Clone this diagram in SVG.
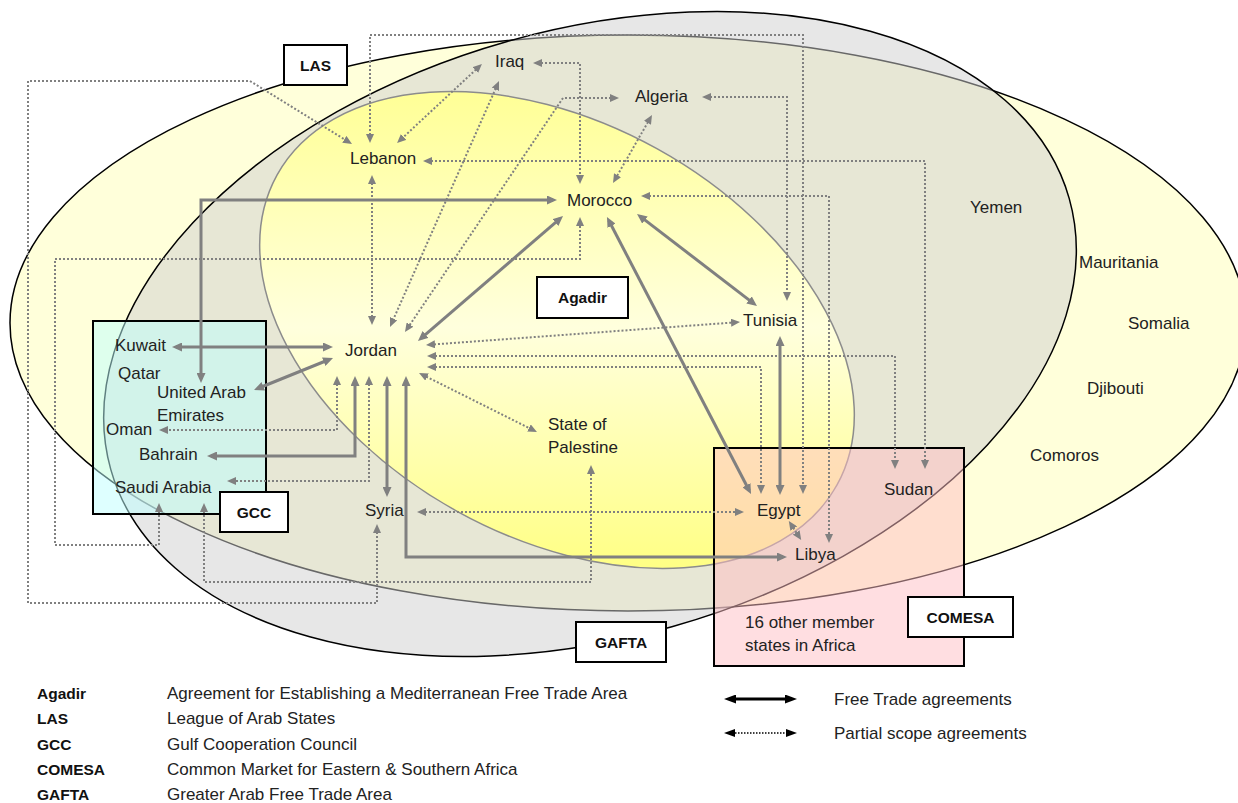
<svg xmlns="http://www.w3.org/2000/svg" width="1238" height="803" viewBox="0 0 1238 803">
<style>
.t{font-family:"Liberation Sans",Arial,sans-serif;font-size:17px;fill:#222}
.b{font-family:"Liberation Sans",Arial,sans-serif;font-size:15.5px;font-weight:bold;fill:#111}
.c{text-anchor:middle}
.lg{font-size:17px}
.lbl{fill:#fff;stroke:#000;stroke-width:2}
.ft{fill:none;stroke:#808080;stroke-width:3;marker-start:url(#aS);marker-end:url(#aS)}
.ps{fill:none;stroke:#808080;stroke-width:2;stroke-dasharray:2 2;marker-start:url(#aD);marker-end:url(#aD)}
</style>
<defs>
<marker id="aS" viewBox="0 0 10 9" refX="6" refY="4.5" markerWidth="10" markerHeight="9" markerUnits="userSpaceOnUse" orient="auto-start-reverse"><path d="M0,0L10,4.5L0,9z" fill="#808080"/></marker>
<marker id="aD" viewBox="0 0 9 8" refX="5" refY="4" markerWidth="9" markerHeight="8" markerUnits="userSpaceOnUse" orient="auto-start-reverse"><path d="M0,0L9,4L0,8z" fill="#808080"/></marker>
<marker id="aSk" viewBox="0 0 12 9" refX="7" refY="4.5" markerWidth="12" markerHeight="9" markerUnits="userSpaceOnUse" orient="auto-start-reverse"><path d="M0,0L12,4.5L0,9z" fill="#000"/></marker>
<marker id="aDk" viewBox="0 0 11 8" refX="6" refY="4" markerWidth="11" markerHeight="8" markerUnits="userSpaceOnUse" orient="auto-start-reverse"><path d="M0,0L11,4L0,8z" fill="#000"/></marker>
<linearGradient id="agadirGrad" gradientUnits="userSpaceOnUse" x1="-115.4" y1="-208.2" x2="113" y2="203.8">
<stop offset="0" stop-color="#FFFF96"/>
<stop offset="0.5" stop-color="#FFFFDD"/>
<stop offset="1" stop-color="#FFFF86"/>
</linearGradient>
</defs>
<rect width="1238" height="803" fill="#fff"/>

<g id="LAS-region">
<ellipse cx="628" cy="323" rx="618" ry="288" fill="#FFFFDA" stroke="#000" stroke-width="1.5"/>
</g>
<g id="GAFTA-region">
<ellipse cx="0" cy="0" rx="498" ry="304" transform="translate(590 334) rotate(-15.8)" fill="#CFCFCF" fill-opacity="0.5" stroke="#000" stroke-width="1.5"/>
</g>
<g id="Agadir-region">
<ellipse cx="0" cy="0" rx="320" ry="207" transform="translate(557 330) rotate(29)" fill="url(#agadirGrad)" stroke="#8C8C8C" stroke-width="1.5"/>
</g>
<g id="GCC-region">
<rect x="93" y="321" width="173" height="193" fill="rgb(190,255,255)" fill-opacity="0.5" stroke="#000" stroke-width="2"/>
</g>
<g id="COMESA-region">
<rect x="714" y="448" width="250" height="218" fill="rgb(255,190,196)" fill-opacity="0.5" stroke="#000" stroke-width="2"/>
</g>

<g id="connectors">
<path class="ft" d="M553,200L201,200L201,379"/>
<path class="ft" d="M176,347L329,347"/>
<path class="ft" d="M257.7,388.5L329.3,359.5"/>
<path class="ft" d="M211,456L355,456L355,380"/>
<path class="ft" d="M387,380L387,493"/>
<path class="ft" d="M406,380L406,557L783,557"/>
<path class="ft" d="M421,338.4L560,218.6"/>
<path class="ft" d="M608.8,220.5L749.2,490.5"/>
<path class="ft" d="M640.2,216.4L753.8,303.6"/>
<path class="ft" d="M780,340L780,491"/>

<path class="ps" d="M377,528L377,603L28,603L28,81L250,81L348.6,141.9"/>
<path class="ps" d="M370,139L370,35L803,35L803,490"/>
<path class="ps" d="M479,66.7L400,140.3"/>
<path class="ps" d="M497.4,84.7L391.6,323.3"/>
<path class="ps" d="M537,63L580,63L580,180"/>
<path class="ps" d="M615,98L563,98L407.2,328.7"/>
<path class="ps" d="M372,179L372,321"/>
<path class="ps" d="M650,118.5L615,179.5"/>
<path class="ps" d="M706,97L787,97L787,297"/>
<path class="ps" d="M427,161L925,161L925,465"/>
<path class="ps" d="M645,196L829,196L829,539"/>
<path class="ps" d="M430,344.7L736,322.3"/>
<path class="ps" d="M431,356L895,356L895,465"/>
<path class="ps" d="M431,367L761,367L761,490"/>
<path class="ps" d="M422.6,374.8L533.4,430.2"/>
<path class="ps" d="M421,512L740,512"/>
<path class="ps" d="M791,524.4L799,536.6"/>
<path class="ps" d="M337,380L337,430L163,430"/>
<path class="ps" d="M369,380L369,481L231,481"/>
<path class="ps" d="M159,507L159,545L55,545L55,259L580,259L580,221"/>
<path class="ps" d="M204,507L204,582L591,582L591,469"/>
</g>

<g id="label-LAS"><rect class="lbl" x="284" y="45" width="63" height="40"/><text class="b c" x="315.5" y="70.5">LAS</text></g>
<g id="label-Agadir"><rect class="lbl" x="537" y="277" width="91" height="41"/><text class="b c" x="582.5" y="303">Agadir</text></g>
<g id="label-GCC"><rect class="lbl" x="220" y="492" width="68" height="40"/><text class="b c" x="254" y="517.5">GCC</text></g>
<g id="label-GAFTA"><rect class="lbl" x="576" y="622" width="90" height="40"/><text class="b c" x="621" y="647.5">GAFTA</text></g>
<g id="label-COMESA"><rect class="lbl" x="908" y="597" width="105" height="40"/><text class="b c" x="960.5" y="622.5">COMESA</text></g>

<g id="node-Iraq"><text class="t" x="495" y="67">Iraq</text></g>
<g id="node-Algeria"><text class="t" x="635" y="102">Algeria</text></g>
<g id="node-Lebanon"><text class="t" x="350" y="164">Lebanon</text></g>
<g id="node-Morocco"><text class="t" x="567" y="206">Morocco</text></g>
<g id="node-Yemen"><text class="t" x="970" y="213">Yemen</text></g>
<g id="node-Mauritania"><text class="t" x="1079" y="268">Mauritania</text></g>
<g id="node-Somalia"><text class="t" x="1128" y="329">Somalia</text></g>
<g id="node-Djibouti"><text class="t" x="1087" y="394">Djibouti</text></g>
<g id="node-Comoros"><text class="t" x="1030" y="461">Comoros</text></g>
<g id="node-Tunisia"><text class="t" x="743" y="326">Tunisia</text></g>
<g id="node-Jordan"><text class="t" x="345" y="356">Jordan</text></g>
<g id="node-Kuwait"><text class="t" x="115" y="351">Kuwait</text></g>
<g id="node-Qatar"><text class="t" x="118" y="379">Qatar</text></g>
<g id="node-UAE"><text class="t" x="157" y="398">United Arab</text><text class="t" x="157" y="421">Emirates</text></g>
<g id="node-Oman"><text class="t" x="106" y="435">Oman</text></g>
<g id="node-Bahrain"><text class="t" x="139" y="460">Bahrain</text></g>
<g id="node-SaudiArabia"><text class="t" x="115" y="493">Saudi Arabia</text></g>
<g id="node-Syria"><text class="t" x="365" y="516">Syria</text></g>
<g id="node-Palestine"><text class="t" x="548" y="430">State of</text><text class="t" x="548" y="453">Palestine</text></g>
<g id="node-Egypt"><text class="t" x="757" y="516">Egypt</text></g>
<g id="node-Libya"><text class="t" x="795" y="560">Libya</text></g>
<g id="node-Sudan"><text class="t" x="884" y="495">Sudan</text></g>
<g id="node-OtherAfrica"><text class="t" x="745" y="628">16 other member</text><text class="t" x="745" y="651">states in Africa</text></g>

<g id="legend">
<text class="b" x="37" y="699">Agadir</text><text class="t lg" x="167" y="699">Agreement for Establishing a Mediterranean Free Trade Area</text>
<text class="b" x="37" y="724">LAS</text><text class="t lg" x="167" y="724">League of Arab States</text>
<text class="b" x="37" y="750">GCC</text><text class="t lg" x="167" y="750">Gulf Cooperation Council</text>
<text class="b" x="37" y="775">COMESA</text><text class="t lg" x="167" y="775">Common Market for Eastern &amp; Southern Africa</text>
<text class="b" x="37" y="800">GAFTA</text><text class="t lg" x="167" y="800">Greater Arab Free Trade Area</text>
<path d="M729,699L792,699" fill="none" stroke="#000" stroke-width="3" marker-start="url(#aSk)" marker-end="url(#aSk)"/>
<path d="M729,733L792,733" fill="none" stroke="#000" stroke-width="1.5" stroke-dasharray="1.5 1.5" marker-start="url(#aDk)" marker-end="url(#aDk)"/>
<text class="t lg" x="834" y="705">Free Trade agreements</text>
<text class="t lg" x="834" y="739">Partial scope agreements</text>
</g>
</svg>
